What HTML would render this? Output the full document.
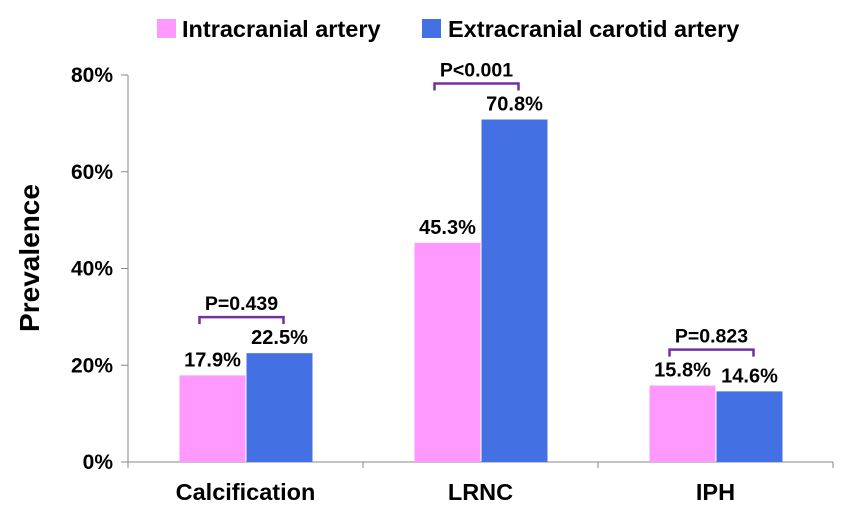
<!DOCTYPE html>
<html><head><meta charset="utf-8"><style>
html,body{margin:0;padding:0;background:#fff;}
svg{display:block;font-family:"Liberation Sans",Arial,sans-serif;font-weight:bold;}
</style></head><body>
<svg id="chart" width="865" height="513" viewBox="0 0 865 513">
<g id="legend">
 <rect x="157" y="19" width="19" height="19" fill="#FF99FF"/>
 <text x="182" y="37" font-size="23.5" fill="#000">Intracranial artery</text>
 <rect x="422" y="19" width="19" height="19" fill="#4370E3"/>
 <text x="448" y="37" font-size="23.5" fill="#000">Extracranial carotid artery</text>
</g>
<text transform="translate(39,258) rotate(-90)" text-anchor="middle" font-size="28">Prevalence</text>
<g id="axes"></g>
<g id="bars"></g>
<g id="annotations"></g>
</svg>
<script>
const categories = ["Calcification", "LRNC", "IPH"];
const intracranial = [17.9, 45.3, 15.8];
const extracranial = [22.5, 70.8, 14.6];
const pValues = ["P=0.439", "P<0.001", "P=0.823"];
const yTicks = [0, 20, 40, 60, 80];

const NS = "http://www.w3.org/2000/svg";
const x0 = 128, catW = 235, y0 = 462, yTop = 75, yMax = 80, barW = 66;
function y(v){ return y0 - v/yMax*(y0-yTop); }
function cx(i){ return x0 + catW*(i+0.5); }
function mk(tag, attrs, parent, txt){
  const e = document.createElementNS(NS, tag);
  for (const k in attrs) e.setAttribute(k, attrs[k]);
  if (txt !== undefined) e.textContent = txt;
  parent.appendChild(e); return e;
}
const axes = document.getElementById('axes');
const bars = document.getElementById('bars');
const ann = document.getElementById('annotations');

let el = mk('line', {x1:x0, y1:yTop, x2:x0, y2:y0, stroke:'#888', 'stroke-width':1}, axes);


el = mk('line', {x1:x0, y1:y0, x2:x0+catW*3, y2:y0, stroke:'#888', 'stroke-width':1}, axes);


yTicks.forEach(t => {
  const tk = mk('line', {x1:x0-7, y1:y(t), x2:x0, y2:y(t), stroke:'#888'}, axes);
  
  
  const lb = mk('text', {x:x0-15, y:y(t)+7, 'text-anchor':'end', 'font-size':21}, axes, t + '%');
  
  
});
for (let i = 0; i <= 3; i++) {
  const tk = mk('line', {x1:x0+catW*i, y1:y0, x2:x0+catW*i, y2:y0+6, stroke:'#888'}, axes);
  
  
}
categories.forEach((c, i) => {
  const lb = mk('text', {x:cx(i), y:500, 'text-anchor':'middle', 'font-size':23.5}, axes, c);
  
  
  const v1 = intracranial[i], v2 = extracranial[i];
  const b1 = mk('rect', {x:cx(i)-barW, y:y(v1), width:barW, height:y0-y(v1), fill:'#FF99FF'}, bars);
  
  
  const b2 = mk('rect', {x:cx(i)+1, y:y(v2), width:barW, height:y0-y(v2), fill:'#4370E3'}, bars);
  
  
  const l1 = mk('text', {x:cx(i)-barW/2, y:y(v1)-9, 'text-anchor':'middle', 'font-size':20}, ann, v1.toFixed(1) + '%');
  
  
  const l2 = mk('text', {x:cx(i)+1+barW/2, y:y(v2)-9, 'text-anchor':'middle', 'font-size':20}, ann, v2.toFixed(1) + '%');
  
  
  const top = Math.max(v1, v2);
  const by = y(top) - 36;
  const br = mk('path', {d:`M${cx(i)-46},${by+7} V${by} H${cx(i)+38} V${by+7}`, fill:'none', stroke:'#7030A0', 'stroke-width':2.5}, ann);
  
  
  const pl = mk('text', {x:cx(i)-4, y:by-7, 'text-anchor':'middle', 'font-size':19.5}, ann, pValues[i]);
  
  
});
</script>
</body></html>
